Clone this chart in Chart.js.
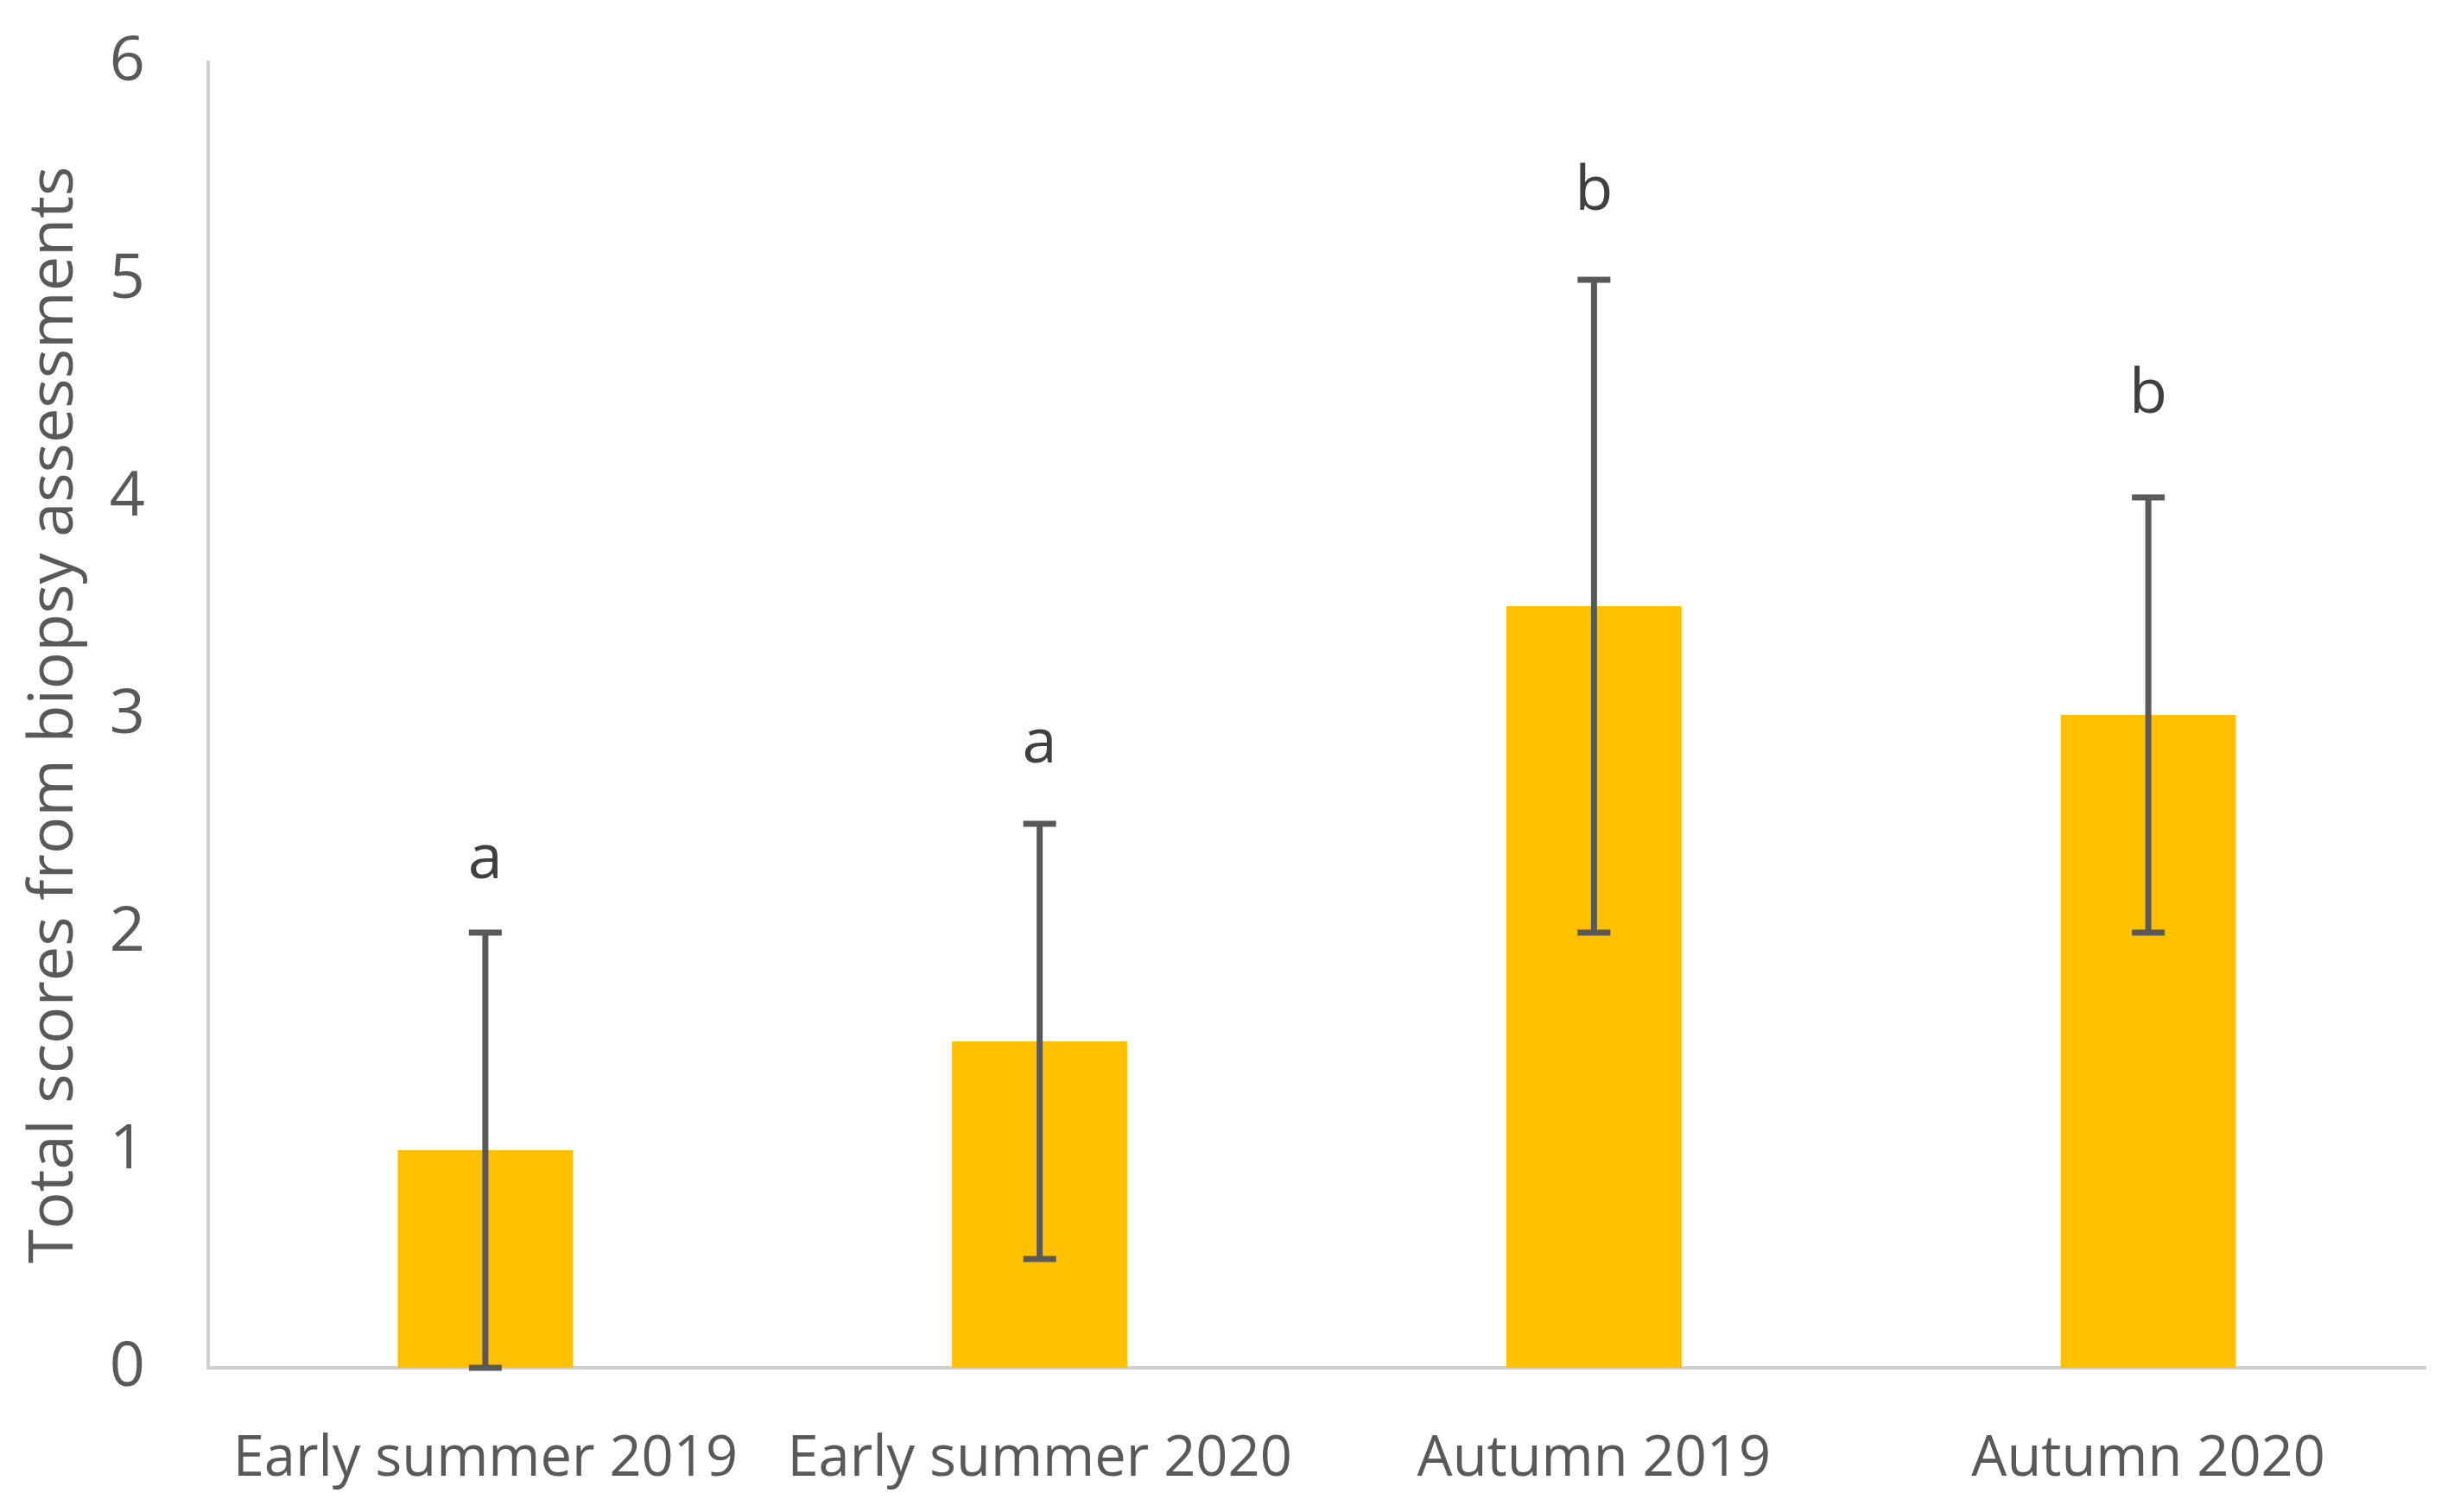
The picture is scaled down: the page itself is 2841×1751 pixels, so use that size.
<!DOCTYPE html>
<html><head><meta charset="utf-8">
<script src="https://cdn.jsdelivr.net/npm/chart.js@4.4.0/dist/chart.umd.min.js"></script>
<style>html,body{margin:0;padding:0;background:#fff;overflow:hidden;}</style>
</head><body>
<canvas id="c" width="2841" height="1751"></canvas>
<script>
const categories = ['Early summer 2019', 'Early summer 2020', 'Autumn 2019', 'Autumn 2020'];
const meanScores = [1, 1.5, 3.5, 3];
const errorMinus = [1, 1, 1.5, 1];
const errorPlus = [1, 1, 1.5, 1];
const groupLetters = ['a', 'a', 'b', 'b'];
const letterLevels = [2.25, 2.78, 5.32, 4.39];   // baseline of each letter, in score units
const yMin = 0, yMax = 6, yStep = 1;
const yTitle = 'Total scores from biopsy assessments';

const FAMILY = '"Open Sans", sans-serif';
const mctx = document.createElement('canvas').getContext('2d');
mctx.font = '100px ' + FAMILY;
const fs = Math.round(100 * 1265 / mctx.measureText(yTitle).width);
const fsx = Math.round(100 * 583 / mctx.measureText(categories[0]).width);
const textColor = '#595959';

const errorBarPlugin = {
  id: 'errorBars',
  afterDatasetsDraw(chart) {
    const ctx = chart.ctx, y = chart.scales.y;
    const meta = chart.getDatasetMeta(0);
    meta.data.forEach((bar, i) => {
      const cx = bar.x;
      const yTop = y.getPixelForValue(meanScores[i] + errorPlus[i]);
      const yBot = y.getPixelForValue(meanScores[i] - errorMinus[i]);
      ctx.save();
      ctx.strokeStyle = '#595959';
      ctx.lineWidth = 7;
      ctx.beginPath();
      ctx.moveTo(cx, yTop); ctx.lineTo(cx, yBot);
      ctx.moveTo(cx - 19, yTop); ctx.lineTo(cx + 19, yTop);
      ctx.moveTo(cx - 19, yBot); ctx.lineTo(cx + 19, yBot);
      ctx.stroke();
      ctx.fillStyle = '#404040';
      ctx.font = fs + 'px ' + FAMILY;
      ctx.textAlign = 'center';
      ctx.textBaseline = 'alphabetic';
      ctx.fillText(groupLetters[i], cx, y.getPixelForValue(letterLevels[i]));
      ctx.restore();
    });
  }
};

new Chart(document.getElementById('c'), {
  type: 'bar',
  data: {
    labels: categories,
    datasets: [{
      data: meanScores,
      backgroundColor: '#FFC000',
      borderWidth: 0,
      barPercentage: 0.316,
      categoryPercentage: 1.0
    }]
  },
  plugins: [errorBarPlugin],
  options: {
    responsive: false,
    devicePixelRatio: 1,
    animation: false,
    layout: { padding: { left: 0, right: 33, top: 72, bottom: 0 } },
    plugins: { legend: { display: false }, tooltip: { enabled: false } },
    scales: {
      x: {
        grid: { display: false },
        border: { display: true, color: '#d0d0d0', width: 4 },
        ticks: { color: textColor, font: { family: FAMILY, size: fsx }, padding: 98 - Math.round(fsx * 0.6), maxRotation: 0, autoSkip: false },
        afterFit(s) { s.height = 167; s.paddingLeft = 0; s.paddingRight = 0; }
      },
      y: {
        min: yMin, max: yMax,
        grid: { display: false },
        border: { display: true, color: '#d0d0d0', width: 4 },
        ticks: { stepSize: yStep, color: textColor, font: { family: FAMILY, size: fs }, padding: 65 },
        title: { display: true, text: yTitle, color: textColor, font: { family: FAMILY, size: fs, lineHeight: 1.2 }, padding: { top: 63 - Math.round(fs * 0.6), bottom: 0 } },
        afterFit(s) { s.width = 241; s.paddingTop = 0; s.paddingBottom = 0; }
      }
    }
  }
});
</script>
</body></html>
